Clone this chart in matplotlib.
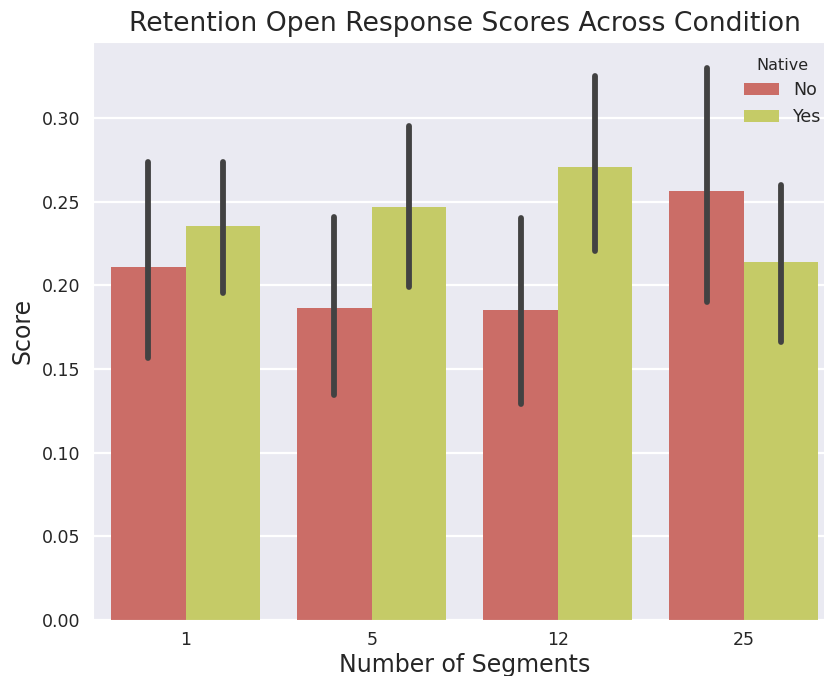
import matplotlib
matplotlib.use("Agg")
import matplotlib.pyplot as plt
import numpy as np
import seaborn as sns

categories = ["1", "5", "12", "25"]
hue_levels = ["No", "Yes"]
means_no = [0.2111, 0.1866, 0.1852, 0.2563]
means_yes = [0.2358, 0.2469, 0.2708, 0.2137]
ci_low_no = [0.1565, 0.1344, 0.1289, 0.1901]
ci_high_no = [0.2738, 0.2406, 0.2403, 0.3299]
ci_low_yes = [0.1953, 0.1991, 0.2206, 0.1662]
ci_high_yes = [0.2738, 0.2951, 0.3250, 0.2599]

sns.set_style("darkgrid")
plt.rcParams['font.family'] = ['DejaVu Sans']

pal = sns.color_palette("hls", 6)
colors = [sns.desaturate(pal[0], 0.75), sns.desaturate(pal[1], 0.75)]

W, H = 824, 676
fig = plt.figure(figsize=(W / 100, H / 100), dpi=100)
ax = fig.add_axes([92.5 / W, (H - 620) / H, (837 - 92.5) / W, (620 - 42) / H])

x = np.arange(len(categories))
bw = 0.4
series = [(means_no, ci_low_no, ci_high_no), (means_yes, ci_low_yes, ci_high_yes)]
for i, (m, lo, hi) in enumerate(series):
    xs = x - 0.2 + i * bw
    ax.bar(xs, m, width=bw, color=colors[i], label=hue_levels[i], linewidth=0, zorder=2)
    for xx, l, h in zip(xs, lo, hi):
        ax.plot([xx, xx], [l, h], color=".26", lw=4.2, solid_capstyle="round", zorder=3)

ax.set_xlim(-0.5, 3.5)
ax.set_ylim(0, 0.3455)
ax.set_xticks(x)
ax.set_xticklabels(categories)
ax.set_yticks(np.arange(0, 0.31, 0.05))
ax.set_yticklabels([f"{v:.2f}" for v in np.arange(0, 0.31, 0.05)])
ax.tick_params(axis="x", labelsize=12.5, colors=".15", length=0, pad=8)
ax.tick_params(axis="y", labelsize=12.5, colors=".15", length=0, pad=9)
ax.xaxis.grid(False)
ax.yaxis.grid(True, color="white", lw=1.6)
ax.set_axisbelow(True)
ax.set_xlabel("Number of Segments", fontsize=17, color=".15", labelpad=3)
ax.set_ylabel("Score", fontsize=17, color=".15", labelpad=5)
ax.set_title("Retention Open Response Scores Across Condition", fontsize=19.2, color=".15", pad=8)
leg = ax.legend(title="Native", loc="upper right", fontsize=12.5, title_fontsize=11.5,
                frameon=False, bbox_to_anchor=(1.0, 1.0))

fig.savefig("out.png", dpi=100)
